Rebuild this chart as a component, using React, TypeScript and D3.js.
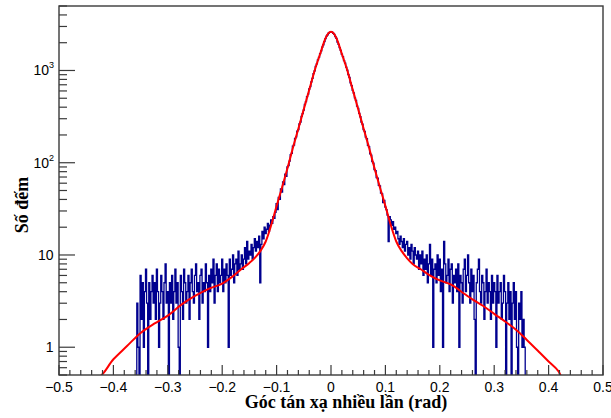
import * as d3 from 'd3'

// histogram: bin counts, first bin starts at binStart, width binWidth
const binStart = -0.357
const binWidth = 0.002
const countsLeftTail = [
  // -0.356 .. -0.102
  3, 1, 0, 6, 2, 5, 1, 4, 7, 3, 0, 5, 2, 4, 6, 3,
  5, 2, 7, 4, 1, 3, 6, 4, 2, 5, 8, 3, 4, 0, 5, 3,
  6, 2, 4, 7, 3, 5, 1, 0, 6, 4, 2, 7, 5, 3, 4, 6,
  2, 5, 7, 4, 3, 6, 8, 4, 5, 2, 6, 7, 3, 5, 4, 8,
  5, 1, 6, 4, 7, 5, 9, 3, 6, 8, 4, 7, 5, 6, 9, 4,
  7, 5, 8, 6, 1, 9, 6, 7, 10, 5, 8, 9, 6, 11, 7, 8,
  10, 7, 9, 12, 8, 14, 9, 11, 10, 13, 9, 12, 15, 11, 14, 12,
  16, 5, 13, 18, 15, 20, 17, 19, 22, 18, 21, 24, 22, 26, 25, 29,
]
const countsCore = [
  // -0.100 .. 0.100
  36, 31, 42, 40, 52, 48, 62, 58, 75, 71, 90, 93, 104, 122, 126, 151, 155,
  184, 191, 220, 228, 263, 276, 318, 340, 372, 428, 460, 521, 555, 630, 668,
  752, 820, 925, 990, 1110, 1180, 1305, 1390, 1520, 1630, 1795, 1900, 2060,
  2210, 2360, 2440, 2550, 2590,
  2640,
  2610, 2530, 2460, 2330, 2230, 2030, 1920, 1770, 1650, 1500, 1410, 1280, 1200,
  1090, 1010, 900, 840, 735, 685, 610, 570, 505, 475, 410, 388, 342, 315, 276,
  262, 228, 219, 190, 182, 154, 149, 125, 121, 103, 99, 84, 82, 69, 68, 57,
  56, 47, 46, 37, 39, 33,
]
const countsRightTail = [
  // 0.102 .. 0.356
  31, 27, 14, 26, 24, 21, 23, 19, 20, 17, 18, 15, 13, 16, 14, 12,
  15, 11, 13, 14, 10, 12, 9, 13, 11, 8, 12, 10, 9, 11, 7, 10,
  8, 11, 6, 9, 7, 10, 5, 8, 13, 6, 9, 1, 7, 8, 5, 10,
  6, 9, 4, 7, 1, 14, 8, 5, 6, 9, 4, 7, 8, 3, 6, 5,
  7, 4, 8, 1, 6, 5, 3, 7, 9, 4, 6, 10, 5, 3, 7, 4,
  6, 2, 0, 5, 7, 9, 4, 3, 6, 5, 2, 4, 7, 3, 5, 4,
  2, 6, 3, 5, 4, 1, 6, 3, 4, 5, 2, 3, 6, 4, 0, 3,
  5, 2, 4, 0, 3, 5, 2, 4, 1, 0, 3, 2, 4, 1, 2, 1,
]
const counts = [...countsLeftTail, ...countsCore, ...countsRightTail]

// fitted curve
const fitX = [
  -0.432, -0.428, -0.4, -0.375, -0.35, -0.325, -0.3, -0.275, -0.25, -0.225,
  -0.2, -0.18, -0.165, -0.15, -0.14, -0.13, -0.12, -0.11, -0.1, -0.09,
  -0.08, -0.07, -0.06, -0.05, -0.04, -0.03, -0.02, -0.01, -0.005, 0,
  0.005, 0.01, 0.02, 0.03, 0.04, 0.05, 0.06, 0.07, 0.08, 0.09,
  0.1, 0.11, 0.12, 0.13, 0.14, 0.15, 0.165, 0.18, 0.2, 0.22,
  0.245, 0.26, 0.28, 0.3, 0.32, 0.34, 0.36, 0.384, 0.4, 0.418, 0.425, 0.43,
]
const fitY = [
  0.5, 0.5, 0.74, 1.03, 1.43, 1.8, 2.2, 2.9, 3.6, 4.3,
  4.9, 5.9, 7.0, 8.2, 9.3, 11, 14, 21, 34, 54,
  87, 145, 234, 380, 617, 1000, 1510, 2240, 2520, 2630,
  2520, 2240, 1510, 1000, 617, 380, 234, 145, 87, 54,
  34, 21, 14, 11, 9.2, 8.0, 7.0, 6.1, 5.3, 4.8,
  3.8, 3.3, 2.8, 2.3, 1.9, 1.55, 1.2, 0.87, 0.7, 0.55, 0.5, 0.5,
]

const xMajor = [-0.5, -0.4, -0.3, -0.2, -0.1, 0, 0.1, 0.2, 0.3, 0.4, 0.5]
const xLabels = ['−0.5', '−0.4', '−0.3', '−0.2', '−0.1', '0', '0.1', '0.2', '0.3', '0.4', '0.5']
const yMajor = [1, 10, 100, 1000]
const yExp = ['', '', '2', '3']
const yBase = ['1', '10', '10', '10']

export default function App() {
  const W = 611
  const H = 418
  const left = 59, right = 603, top = 6, bottom = 375

  const x = d3.scaleLinear().domain([-0.5, 0.5]).range([left, right])
  const y = d3.scaleLog().domain([0.5, 5000]).range([bottom, top])
  const yv = (v: number) => (v > 0.5 ? y(v) : bottom + 2)

  // step outline of the histogram
  const pts: [number, number][] = [[binStart, 0]]
  counts.forEach((c, i) => pts.push([binStart + i * binWidth, c]))
  pts.push([binStart + counts.length * binWidth, 0])
  const histPath = d3.line<[number, number]>()
    .x(d => x(d[0]))
    .y(d => yv(d[1]))
    .curve(d3.curveStepAfter)(pts)

  const fitPath = d3.line<number>()
    .x(d => x(d))
    .y((d, i) => yv(fitY[i]))
    .curve(d3.curveMonotoneX)(fitX)

  const xMinor = d3.range(-25, 26)
    .map(k => k * 0.02)
    .filter(v => Math.abs(v * 10 - Math.round(v * 10)) > 1e-6)

  const yMinor: number[] = []
  ;[0.1, 1, 10, 100, 1000].forEach(d => {
    for (let k = 2; k <= 9; k++) {
      const v = k * d
      if (v >= 0.5 && v <= 5000) yMinor.push(v)
    }
  })

  const axisColor = '#3a3a3a'

  return (
    <svg width={W} height={H} style={{ position: 'absolute', left: 0, top: 0, background: '#fff' }}>
      <defs>
        <clipPath id="frame">
          <rect x={left} y={top} width={right - left} height={bottom - top} />
        </clipPath>
      </defs>

      <g clipPath="url(#frame)">
        <path d={histPath ?? ''} fill="none" stroke="#00008f" strokeWidth={1.3} />
        <path d={fitPath ?? ''} fill="none" stroke="#ff0000" strokeWidth={2} />
      </g>

      <rect x={left} y={top} width={right - left} height={bottom - top}
        fill="none" stroke={axisColor} strokeWidth={1.4} />

      {/* x axis ticks */}
      {xMajor.map(v => (
        <line key={'xM' + v} x1={x(v)} x2={x(v)} y1={bottom} y2={bottom - 10}
          stroke={axisColor} strokeWidth={1.2} />
      ))}
      {xMinor.map(v => (
        <line key={'xm' + v} x1={x(v)} x2={x(v)} y1={bottom} y2={bottom - 5}
          stroke={axisColor} strokeWidth={1.2} />
      ))}
      {xMajor.map((v, i) => (
        <text key={'xl' + v} x={x(v)} y={392} textAnchor="middle"
          fontFamily="'Liberation Sans', Arial, sans-serif" fontSize={14} fill="#000">
          {xLabels[i]}
        </text>
      ))}

      {/* y axis ticks */}
      {yMajor.map(v => (
        <line key={'yM' + v} x1={left} x2={left + 16} y1={y(v)} y2={y(v)}
          stroke={axisColor} strokeWidth={1.2} />
      ))}
      {yMinor.map(v => (
        <line key={'ym' + v} x1={left} x2={left + 8} y1={y(v)} y2={y(v)}
          stroke={axisColor} strokeWidth={1.2} />
      ))}
      {yMajor.map((v, i) => (
        <text key={'yl' + v} x={yExp[i] ? 49 : 53.5} y={y(v) + 5} textAnchor="end"
          fontFamily="'Liberation Sans', Arial, sans-serif" fontSize={14} fill="#000">
          {yBase[i]}
        </text>
      ))}
      {yMajor.map((v, i) => yExp[i] ? (
        <text key={'ye' + v} x={49} y={y(v) - 2} textAnchor="start"
          fontFamily="'Liberation Sans', Arial, sans-serif" fontSize={9} fill="#000">
          {yExp[i]}
        </text>
      ) : null)}

      {/* axis titles */}
      <text x={346} y={408} textAnchor="middle"
        fontFamily="'Liberation Serif', 'Times New Roman', serif" fontWeight="bold" fontSize={18} fill="#000">
        Góc tán xạ nhiều lần (rad)
      </text>
      <text transform="translate(28,205) rotate(-90)" textAnchor="middle"
        fontFamily="'Liberation Serif', 'Times New Roman', serif" fontWeight="bold" fontSize={18} fill="#000">
        Số đếm
      </text>
    </svg>
  )
}
